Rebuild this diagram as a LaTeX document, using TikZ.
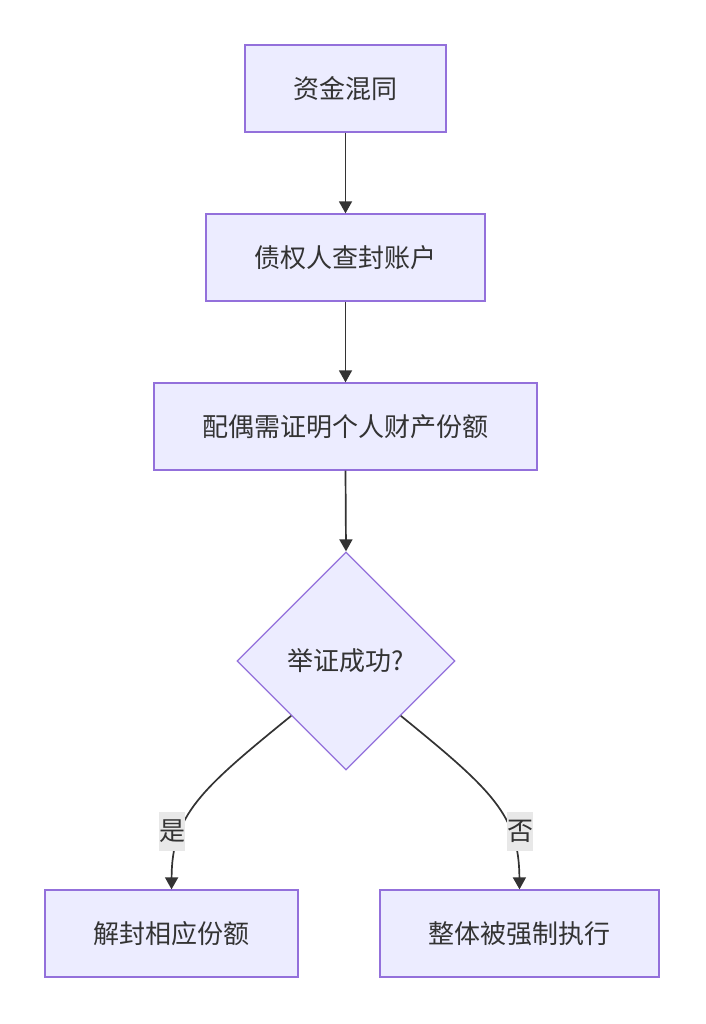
\documentclass[tikz,border=0pt]{standalone}
\usepackage{fontspec}
\setmainfont{Noto Sans CJK SC}
\usetikzlibrary{shapes.geometric,arrows.meta,calc}
\definecolor{nodefill}{HTML}{ECECFF}
\definecolor{nodeline}{HTML}{9370DB}
\definecolor{txt}{HTML}{333333}
\definecolor{lblbg}{HTML}{E8E8E8}
\tikzset{
  box/.style={draw=nodeline, fill=nodefill, line width=1.3pt, inner sep=0pt,
    minimum height=87pt, text=txt, font=\fontsize{26}{31}\selectfont},
  dia/.style={diamond, aspect=1, draw=nodeline, fill=nodefill, line width=1.3pt,
    inner sep=0pt, minimum width=218pt, minimum height=218pt, text=txt,
    font=\fontsize{26}{31}\selectfont},
  lbl/.style={fill=lblbg, inner sep=0pt, minimum width=26pt, minimum height=39pt,
    text=txt, font=\fontsize{26}{31}\selectfont},
  conn/.style={draw=txt, line width=1.7pt, -{Triangle[length=12pt,width=13pt]}}
}
\begin{document}
\begin{tikzpicture}[x=1pt,y=-1pt]
\useasboundingbox (0,0) rectangle (705,1024);
\node[box, minimum width=201pt] (A) at (345.5,88.5) {资金混同};
\node[box, minimum width=279pt] (B) at (345.5,257.5) {债权人查封账户};
\node[box, minimum width=383pt] (C) at (345.5,426.5) {配偶需证明个人财产份额};
\node[dia] (D) at (346,661) {举证成功?};
\node[box, minimum width=253pt] (E) at (171.5,933.5) {解封相应份额};
\node[box, minimum width=279pt] (F) at (519.5,933.5) {整体被强制执行};
\draw[conn] (A.south) -- (B.north);
\draw[conn] (B.south) -- (C.north);
\draw[conn] (C.south) -- (D.north);
\coordinate (dl) at ($(D.west)!0.5!(D.south)$);
\coordinate (dr) at ($(D.east)!0.5!(D.south)$);
\draw[conn] (dl) .. controls (200,790) and (172,815) .. (E.north);
\draw[conn] (dr) .. controls (492,790) and (519,815) .. (F.north);
\node[lbl] (ly) at (172,831) {是};
\node[lbl] (ln) at (520,831) {否};
\end{tikzpicture}
\end{document}
